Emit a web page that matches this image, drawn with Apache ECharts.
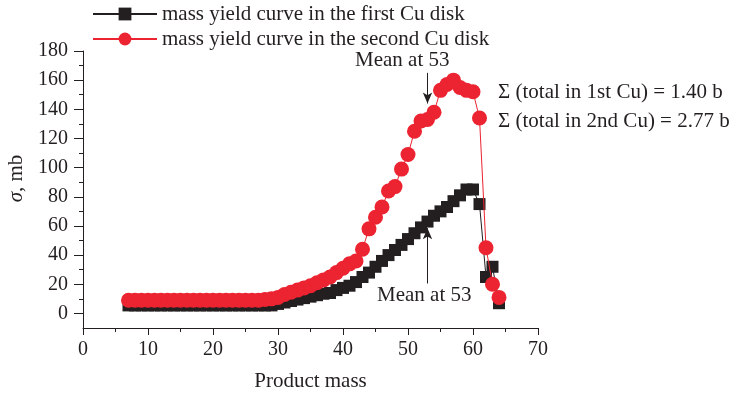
<!DOCTYPE html>
<html>
<head>
<meta charset="utf-8">
<style>
  html, body { margin: 0; padding: 0; background: #fff; }
  #chart { width: 736px; height: 394px; }
</style>
<script src="https://cdn.jsdelivr.net/npm/echarts@6/dist/echarts.min.js"></script>
</head>
<body>
<div id="chart"></div>
<script>
// Product mass numbers (x) for both disks
const masses = [7,8,9,10,11,12,13,14,15,16,17,18,19,20,21,22,23,24,25,26,27,28,29,30,31,32,33,34,35,36,37,38,39,40,41,42,43,44,45,46,47,48,49,50,51,52,53,54,55,56,57,58,59,60,61,62,63,64];

// Cross sections (mb), first Cu disk
const firstDisk = [5.5,5.5,5.5,5.5,5.5,5.5,5.5,5.5,5.5,5.5,5.5,5.5,5.5,5.5,5.5,5.5,5.5,5.5,5.5,5.5,5.5,5.5,5.5,6.5,7.5,8.5,9.5,10.5,11.5,12.5,13.5,14,16,17.5,19,21.5,25,28,32,36,40,43.5,47,51,55,59,63,67,70,73,77,81,85,85,75,25,32,7];

// Cross sections (mb), second Cu disk
const secondDisk = [9,9,9,9,9,9,9,9,9,9,9,9,9,9,9,9,9,9,9,9,9,9.5,10,11,13,14.5,16,17.5,19,21,23,25,28,31,34,36,44,58,66,73,84,87,99,109,125,132,133,138,153,157,160,155,153,152,134,45,20,11];

const seriesNames = ['mass yield curve in the first Cu disk', 'mass yield curve in the second Cu disk'];
const yLabelValues = [0,20,40,60,80,100,120,140,160,180];
const yMinorTickValues = [10,30,50,70,90,110,130,150,170];
const sumTexts = ['\u03A3 (total in 1st Cu) = 1.40 b', '\u03A3 (total in 2nd Cu) = 2.77 b'];
const meanMass = 53;

const FONT = '"Liberation Serif", "DejaVu Serif", serif';
const INK = '#231f20';
const RED = '#ec2330';

const pairs = (ys) => masses.map((m, i) => [m, ys[i]]);

const chart = echarts.init(document.getElementById('chart'), null, { renderer: 'canvas' });

const yRange = { type: 'value', min: -10, max: 180, gridIndex: 0, position: 'left', offset: 0, splitLine: { show: false } };

chart.setOption({
  animation: false,
  backgroundColor: '#fff',
  textStyle: { fontFamily: FONT, color: INK },
  grid: { left: 83, right: 198, top: 51, bottom: 66, containLabel: false, outerBoundsMode: 'none' },
  legend: {
    orient: 'vertical',
    left: 92,
    top: 3,
    padding: 0,
    itemWidth: 64,
    itemHeight: 16,
    itemGap: 3,
    textStyle: { fontFamily: FONT, fontSize: 21, lineHeight: 22, color: INK },
    data: seriesNames
  },
  xAxis: {
    type: 'value',
    min: 0,
    max: 70,
    interval: 10,
    name: 'Product mass',
    nameLocation: 'middle',
    nameGap: 43,
    nameTextStyle: { fontFamily: FONT, fontSize: 21, color: INK },
    axisLine: { show: true, onZero: false, lineStyle: { color: INK, width: 1 } },
    axisTick: { show: true, inside: false, length: 7, lineStyle: { color: INK } },
    minorTick: { show: true, splitNumber: 2, length: 4, lineStyle: { color: INK } },
    axisLabel: { fontFamily: FONT, fontSize: 20, color: INK, margin: 12 },
    splitLine: { show: false }
  },
  yAxis: [
    Object.assign({}, yRange, {
      interval: 10,
      name: '{i|\u03C3}, mb',
      nameLocation: 'middle',
      nameGap: 46,
      nameRotate: 90,
      nameTextStyle: {
        fontFamily: FONT, fontSize: 21, color: INK,
        padding: [0, 0, 0, 22],
        rich: { i: { fontFamily: FONT, fontSize: 21, fontStyle: 'italic', color: INK } }
      },
      axisLine: { show: true, onZero: false, lineStyle: { color: INK, width: 1 } },
      axisTick: { show: true, inside: false, length: 9, customValues: yLabelValues, lineStyle: { color: INK } },
      axisLabel: { fontFamily: FONT, fontSize: 20, color: INK, margin: 15, customValues: yLabelValues }
    }),
    // minor ticks between the labelled ones
    Object.assign({}, yRange, {
      interval: 10,
      axisLine: { show: false, onZero: false },
      axisTick: { show: true, inside: false, length: 4, customValues: yMinorTickValues, lineStyle: { color: INK } },
      axisLabel: { show: false }
    })
  ],
  graphic: [
    { type: 'text', x: 355, y: 60, style: { text: 'Mean at ' + meanMass, font: '21px ' + FONT, fill: INK, verticalAlign: 'middle' } },
    { type: 'text', x: 377, y: 295, style: { text: 'Mean at ' + meanMass, font: '21px ' + FONT, fill: INK, verticalAlign: 'middle' } },
    { type: 'text', x: 498, y: 92, style: { text: sumTexts[0], font: '21px ' + FONT, fill: INK, verticalAlign: 'middle' } },
    { type: 'text', x: 498, y: 121, style: { text: sumTexts[1], font: '21px ' + FONT, fill: INK, verticalAlign: 'middle' } }
  ],
  series: [
    {
      name: seriesNames[0],
      type: 'line',
      data: pairs(firstDisk),
      symbol: 'rect',
      symbolSize: 12,
      itemStyle: { color: INK },
      lineStyle: { color: INK, width: 1 },
      z: 2,
      markLine: {
        silent: true,
        symbol: ['none', 'arrow'],
        symbolSize: [7, 11],
        label: { show: false },
        lineStyle: { color: INK, width: 1, type: 'solid' },
        data: [
          [{ coord: [meanMass, 20.5] }, { coord: [meanMass, 58.5] }]
        ]
      }
    },
    {
      name: seriesNames[1],
      type: 'line',
      data: pairs(secondDisk),
      symbol: 'circle',
      symbolSize: 15,
      itemStyle: { color: RED },
      lineStyle: { color: RED, width: 1 },
      z: 3,
      markLine: {
        silent: true,
        symbol: ['none', 'arrow'],
        symbolSize: [7, 11],
        label: { show: false },
        lineStyle: { color: INK, width: 1, type: 'solid' },
        data: [
          [{ coord: [meanMass, 165] }, { coord: [meanMass, 144] }]
        ]
      }
    }
  ]
});
</script>
</body>
</html>
